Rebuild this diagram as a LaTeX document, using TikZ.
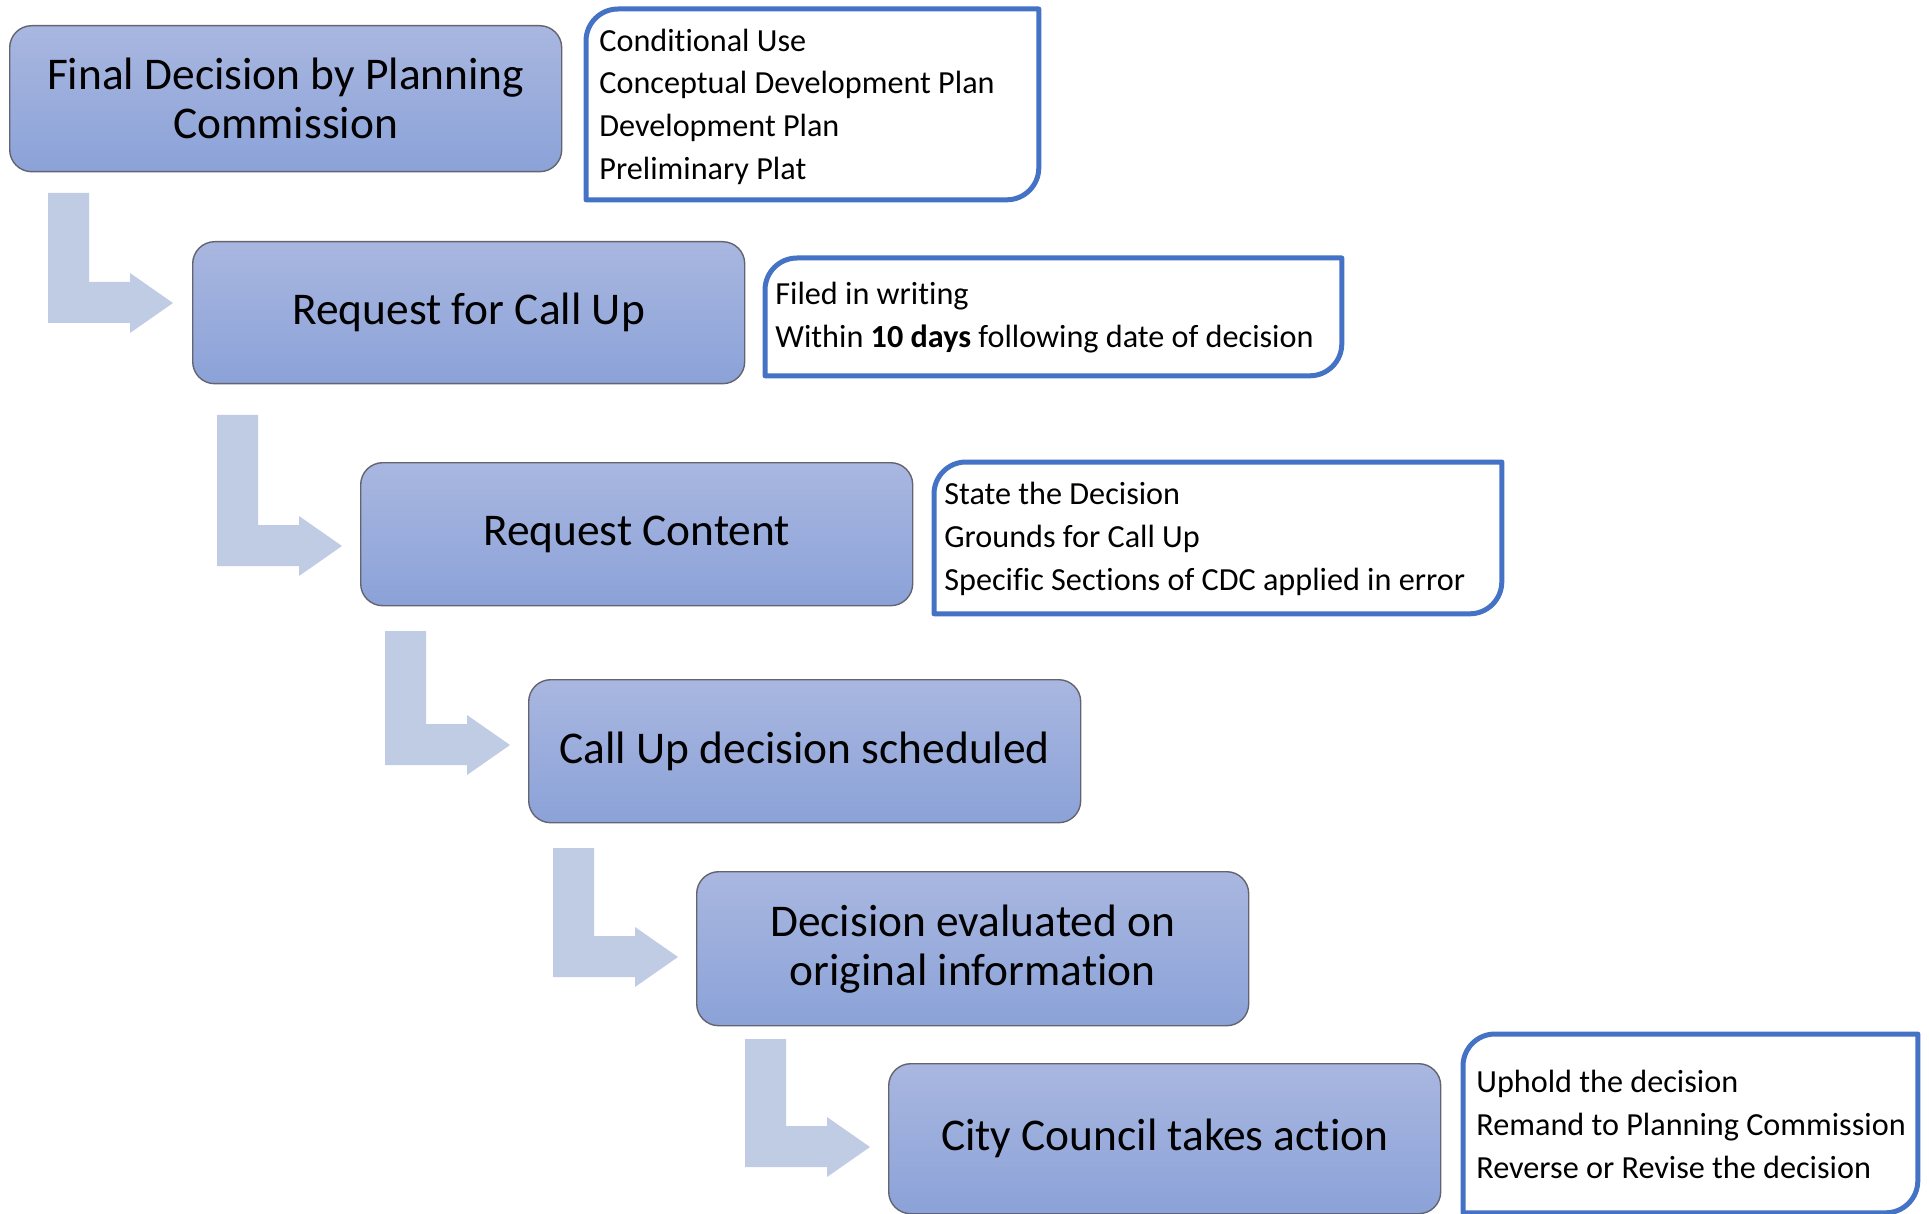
\documentclass[tikz,border=0pt]{standalone}
\usepackage{fontspec}
\setmainfont{Carlito}[Ligatures=NoCommon]
\usetikzlibrary{calc}
\definecolor{boxtop}{RGB}{169,183,224}
\definecolor{boxbot}{RGB}{139,162,216}
\definecolor{arrowc}{RGB}{192,203,228}
\definecolor{callb}{RGB}{68,114,196}
\definecolor{boxline}{RGB}{100,100,112}
\newcommand\calloutframe[1]{%
  \draw[callb, line width=2.5pt, line join=round]
    (#1.south west) -- ($(#1.north west)+(0pt,-16pt)$)
    arc[start angle=180, end angle=90, radius=16pt]
    -- (#1.north east) -- ($(#1.south east)+(0pt,16pt)$)
    arc[start angle=0, end angle=-90, radius=16pt] -- cycle;}
\newcommand\bentarr[3]{%
  \fill[arrowc] (#1,#2) -- (#1+41,#2) -- (#1+41,#3-41) -- (#1+82,#3-41)
    -- (#1+82,#3-50) -- (#1+125,#3-20) -- (#1+82,#3+10) -- (#1+82,#3)
    -- (#1,#3) -- cycle;}
\begin{document}
\begin{tikzpicture}[x=0.5pt,y=-0.5pt,
  stepbox/.style={anchor=north west, rounded corners=11pt, draw=boxline,
    line width=0.7pt, top color=boxtop, bottom color=boxbot,
    font=\fontsize{22.7}{24.5}\selectfont, align=center, inner sep=0pt,
    minimum width=276pt},
  frame/.style={anchor=north west, inner sep=0pt},
  callout/.style={anchor=west, align=left, inner sep=0pt,
    font=\fontsize{16.1}{21.4}\selectfont}]
\useasboundingbox (0,0) rectangle (1929,1214);

% bent arrows
\bentarr{48}{193}{323}
\bentarr{217}{415}{566}
\bentarr{385}{631}{765}
\bentarr{553}{848}{977}
\bentarr{745}{1039}{1167}

% step boxes
\node[stepbox, minimum height=73pt] (b1) at (9,25) {Final Decision by Planning\\Commission};
\node[stepbox, minimum height=71pt] (b2) at (192,241) {Request for Call Up};
\node[stepbox, minimum height=71.5pt] (b3) at (360,462) {Request Content};
\node[stepbox, minimum height=71.5pt] (b4) at (528,679) {Call Up decision scheduled};
\node[stepbox, minimum height=77pt] (b5) at (696,871) {Decision evaluated on\\original information};
\node[stepbox, minimum height=75pt] (b6) at (888,1063) {City Council takes action};

% callout frames
\node[frame, minimum width=226pt, minimum height=95pt] (c1) at (586,9) {};
\node[frame, minimum width=288pt, minimum height=58.5pt] (c2) at (765,258) {};
\node[frame, minimum width=283.5pt, minimum height=75.5pt] (c3) at (934,462) {};
\node[frame, minimum width=227pt, minimum height=89pt] (c4) at (1463,1034) {};
\calloutframe{c1}
\calloutframe{c2}
\calloutframe{c3}
\calloutframe{c4}

% callout texts
\node[callout] (t1) at ($(c1.west)+(6.5pt,-1.2pt)$)
  {Conditional Use\\Conceptual Development Plan\\Development Plan\\Preliminary Plat};
\node[callout] (t2) at ($(c2.west)+(5pt,-0.5pt)$)
  {Filed in writing\\Within \textbf{10 days} following date of decision};
\node[callout] (t3) at ($(c3.west)+(5pt,-0.5pt)$)
  {State the Decision\\Grounds for Call Up\\Specific Sections of CDC applied in error};
\node[callout] (t4) at ($(c4.west)+(6.5pt,-0.5pt)$)
  {Uphold the decision\\Remand to Planning Commission\\Reverse or Revise the decision};
\end{tikzpicture}
\end{document}
